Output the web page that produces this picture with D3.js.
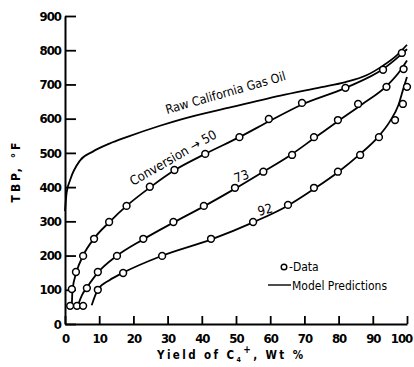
<!DOCTYPE html>
<html>
<head>
<meta charset="utf-8">
<script src="https://cdn.jsdelivr.net/npm/d3@7"></script>
<style>
    body { margin: 0; background: #fff; }
    svg { display: block; }
    text { font-family: "Liberation Sans Narrow", "DejaVu Sans Condensed", "Liberation Sans", sans-serif; fill: #000; }
</style>
</head>
<body>
<div id="chart"></div>
<script>
// model prediction curves [yield %, TBP °F]
const rawGasOil = [[0, 330], [0.5, 385], [1.5, 421], [4.4, 478], [8, 503], [13, 527], [18, 546], [28, 580], [34, 598], [48, 632], [63, 667], [75, 692], [82, 707], [88, 726], [93, 755], [97, 785], [100, 816]];
const model50 = [[2, 55], [2.2, 100], [3.3, 150], [5.3, 200], [8.5, 250], [13, 298], [18, 345], [25, 400], [32, 449], [41, 497], [51, 546], [60, 594], [69, 640], [82, 690], [93, 745], [98, 785], [100, 803]];
const model73 = [[3.8, 55], [5, 85], [6.5, 108], [9.6, 150], [15, 198], [23, 248], [32, 298], [41, 346], [50, 397], [58, 445], [66, 494], [73, 544], [80, 594], [87, 643], [94, 695], [98, 740], [100, 770]];
const model92 = [[7.8, 55], [9.6, 100], [13, 128], [17, 150], [28, 198], [43, 248], [55, 297], [65, 345], [73, 396], [80, 445], [86, 494], [91.5, 546], [95, 592], [97.5, 640], [99, 690], [100, 722]];

// measured data
const data50 = [[1.5, 53], [2, 102], [3.2, 152], [5.3, 199], [8.5, 249], [12.9, 298], [18, 345], [24.8, 401], [32, 450], [41, 497], [51, 546], [59.6, 599], [69.3, 646], [82, 690], [93, 743], [98.5, 792]];
const data73 = [[3.5, 53], [6.4, 105], [9.6, 152], [15.2, 199], [22.9, 249], [31.7, 298], [40.6, 345], [49.7, 398], [58, 445], [66.4, 494], [72.8, 546], [79.8, 596], [85.7, 643], [94, 693], [99, 745]];
const data92 = [[5.3, 53], [9.6, 100], [17, 149], [28.4, 199], [42.7, 249], [55, 298], [65.2, 348], [72.8, 398], [79.8, 445], [86.3, 494], [91.8, 546], [96.5, 596], [98.8, 643], [100, 693]];

const xTicks = [0, 10, 20, 30, 40, 50, 60, 70, 80, 90, 100];
const yTicks = [0, 100, 200, 300, 400, 500, 600, 700, 800, 900];

const svg = d3.select("#chart")
    .append("svg")
    .attr("width", 414)
    .attr("height", 367);

const x = d3.scaleLinear().domain([0, 100]).range([65, 407]);
const y = d3.scaleLinear().domain([0, 900]).range([324, 16]);

//axes
const xAxis = d3.axisBottom(x).tickValues(xTicks).tickSizeInner(-8).tickSizeOuter(0).tickPadding(12);
const yAxis = d3.axisLeft(y).tickValues(yTicks).tickSizeInner(-11).tickSizeOuter(0).tickPadding(15);

const gx = svg.append("g").attr("transform", `translate(0, ${y(0)})`).call(xAxis);
const gy = svg.append("g").attr("transform", `translate(${x(0)}, 0)`).call(yAxis);

[gx, gy].forEach(g => {
    g.select(".domain").attr("stroke", "#000").attr("stroke-width", 2);
    g.selectAll(".tick line").attr("stroke", "#000").attr("stroke-width", 1.8);
    g.selectAll(".tick text")
        .style("font-size", "13px")
        .style("font-weight", "bold")
        .style("letter-spacing", "-1px")
        .attr("fill", "#000");
});
gx.selectAll(".tick text").attr("dy", "0.55em");
// keep the last label inside the picture
gx.selectAll(".tick text").filter(d => d === 100).attr("x", -6);
gy.selectAll(".tick text").attr("x", -4);

//axis titles
const xTitle = svg.append("text")
    .attr("x", 157)
    .attr("y", 359)
    .style("font-size", "11.5px")
    .style("font-weight", "bold")
    .style("letter-spacing", "2.4px");
xTitle.append("tspan").text("Yield of C");
xTitle.append("tspan").attr("dy", 3).style("font-size", "7px").text("4");
xTitle.append("tspan").attr("dy", -9).style("font-size", "10px").text("+");
xTitle.append("tspan").attr("dy", 6).text(", Wt %");

svg.append("text")
    .attr("transform", "translate(20, 171) rotate(-90)")
    .attr("text-anchor", "middle")
    .style("font-size", "12px")
    .style("font-weight", "bold")
    .style("letter-spacing", "3px")
    .text("TBP, °F");

//curves
const line = d3.line()
    .x(d => x(d[0]))
    .y(d => y(d[1]))
    .curve(d3.curveMonotoneX);

svg.selectAll("path.model")
    .data([rawGasOil, model50, model73, model92])
    .enter()
    .append("path")
    .attr("class", "model")
    .attr("d", line)
    .attr("fill", "none")
    .attr("stroke", "#000")
    .attr("stroke-width", 1.8);

//data points
svg.selectAll("circle.point")
    .data([...data50, ...data73, ...data92])
    .enter()
    .append("circle")
    .attr("class", "point")
    .attr("cx", d => x(d[0]))
    .attr("cy", d => y(d[1]))
    .attr("r", 3.4)
    .attr("fill", "#fff")
    .attr("stroke", "#000")
    .attr("stroke-width", 1.5);

//curve labels
function label(text, px, py, angle, size) {
    return svg.append("text")
        .attr("transform", `translate(${px}, ${py}) rotate(${angle})`)
        .style("font-size", size + "px")
        .text(text);
}
label("Raw California Gas Oil", 167, 114, -16, 12.5);
label("Conversion \u2192 50", 133, 186, -30, 13);
label("73", 236, 183, -20, 13);
label("92", 259, 216, -15, 13);

//legend
svg.append("circle")
    .attr("cx", 284)
    .attr("cy", 267)
    .attr("r", 2.8)
    .attr("fill", "#fff")
    .attr("stroke", "#000")
    .attr("stroke-width", 1.4);
svg.append("text")
    .attr("x", 289)
    .attr("y", 271)
    .style("font-size", "12px")
    .text("-Data");
svg.append("line")
    .attr("x1", 268)
    .attr("x2", 291)
    .attr("y1", 285)
    .attr("y2", 285)
    .attr("stroke", "#000")
    .attr("stroke-width", 1.4);
svg.append("text")
    .attr("x", 292)
    .attr("y", 290)
    .style("font-size", "12px")
    .text("Model Predictions");
</script>
</body>
</html>
